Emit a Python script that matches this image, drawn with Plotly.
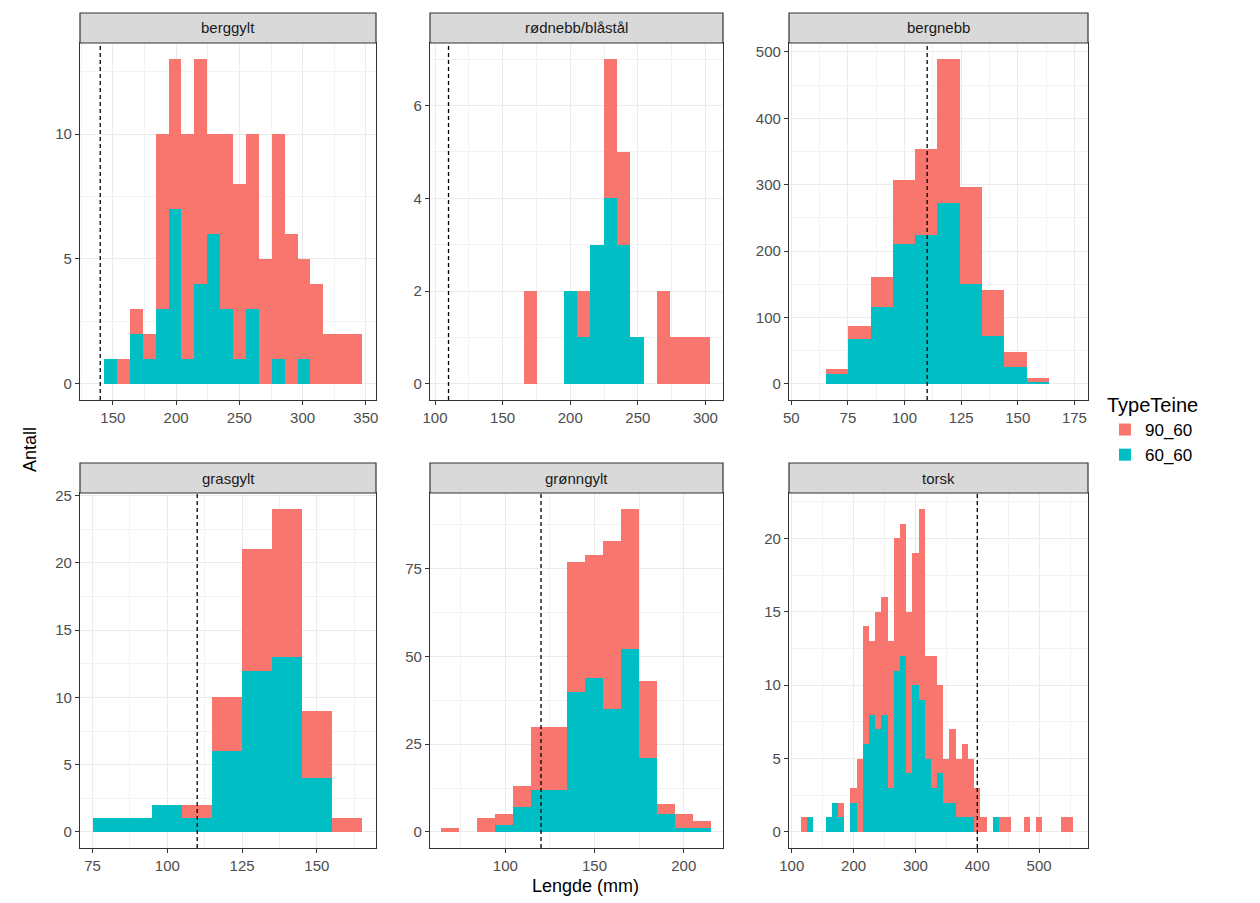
import plotly.graph_objects as go

# species facets, in plotting order
SPECIES = ["berggylt", "rødnebb/blåstål", "bergnebb", "grasgylt", "grønngylt", "torsk"]

# bin start (mm) and bin width (mm) per facet
BIN_START = [143, 165.6, 65.3, 75, 63.9, 115]
BIN_WIDTH = [10.2, 9.85, 9.85, 10, 10.1, 10]

# totals per bin (both trap types) and the 60_60 part of it
TOTAL = [
    [1, 1, 3, 2, 10, 13, 10, 13, 10, 10, 8, 10, 5, 10, 6, 5, 4, 2, 2, 2],
    [2, 0, 0, 2, 2, 3, 7, 5, 1, 0, 2, 1, 1, 1],
    [23, 87, 161, 307, 353, 489, 296, 141, 48, 9],
    [1, 1, 2, 2, 10, 21, 24, 9, 1],
    [1, 0, 4, 5, 13, 30, 30, 77, 79, 83, 92, 43, 8, 5, 3],
    [1, 1, 0, 0, 1, 2, 2, 0, 3, 5, 14, 13, 15, 16, 13, 20, 21, 15, 19, 22, 12, 12,
     10, 5, 7, 5, 6, 5, 3, 1, 0, 1, 1, 1, 0, 0, 1, 0, 1, 0, 0, 0, 1, 1],
]
N_60_60 = [
    [1, 0, 2, 1, 3, 7, 1, 4, 6, 3, 1, 3, 0, 1, 0, 1, 0, 0, 0, 0],
    [0, 0, 0, 2, 1, 3, 4, 3, 1, 0, 0, 0, 0, 0],
    [15, 67, 115, 210, 224, 273, 150, 72, 26, 3],
    [1, 1, 2, 1, 6, 12, 13, 4, 0],
    [0, 0, 0, 2, 7, 12, 12, 40, 44, 35, 52, 21, 5, 1, 1],
    [0, 1, 0, 0, 1, 2, 1, 0, 2, 0, 6, 8, 7, 8, 3, 11, 12, 4, 10, 9, 5, 3,
     4, 2, 2, 1, 1, 1, 0, 0, 0, 1, 0, 0, 0, 0, 0, 0, 0, 0, 0, 0, 0, 0],
]

# minimum length line per species
MIN_LENGTH = [140, 110, 110, 110, 120, 400]

# axis settings
X_RANGE = [[124, 358], [96.3, 313], [49, 181], [70.8, 169.8], [57.8, 222], [95.6, 579]]
X_DTICK = [50, 50, 25, 25, 50, 100]
X_TICK0 = [150, 100, 50, 75, 100, 100]
Y_DTICK = [5, 2, 100, 5, 25, 5]

RED = "#F8766D"
TEAL = "#00BFC4"
W, H = 1260, 903
OFF = 8  # page body margin in the browser
FONT = "Liberation Sans, Arial"

# panel pixel boxes in the screenshot (left, right, top, bottom)
COLS = [(80, 376), (430, 723), (789, 1088)]
ROWS = [(43, 400), (493, 848)]
STRIP_H = 30


def px(v):
    return (v - OFF) / W


def py(v):
    return 1 - (v - OFF) / H


fig = go.Figure()
shapes = []
annotations = []

for i, name in enumerate(SPECIES):
    r, c = divmod(i, 3)
    n = i + 1
    xa = "x" if n == 1 else f"x{n}"
    ya = "y" if n == 1 else f"y{n}"
    centers = [BIN_START[i] + BIN_WIDTH[i] * (k + 0.5) for k in range(len(TOTAL[i]))]
    n90 = [t - s for t, s in zip(TOTAL[i], N_60_60[i])]

    fig.add_trace(go.Bar(x=centers, y=N_60_60[i], width=BIN_WIDTH[i], name="60_60",
                         marker=dict(color=TEAL, line_width=0), legendgroup="60_60",
                         showlegend=(i == 0), xaxis=xa, yaxis=ya))
    fig.add_trace(go.Bar(x=centers, y=n90, width=BIN_WIDTH[i], name="90_60",
                         marker=dict(color=RED, line_width=0), legendgroup="90_60",
                         showlegend=(i == 0), xaxis=xa, yaxis=ya))

    l, rr = COLS[c]
    t, b = ROWS[r]
    ymax = max(TOTAL[i])
    grid = dict(showgrid=True, gridcolor="#ebebeb", gridwidth=1.2, zeroline=False,
                showline=True, linecolor="#333333", linewidth=1.2, mirror=True,
                ticks="outside", ticklen=4, tickcolor="#333333", automargin=False,
                tickfont=dict(family=FONT, size=15, color="#4d4d4d"))
    fig.layout[xa.replace("x", "xaxis")] = dict(
        domain=[px(l), px(rr)], anchor=ya, range=X_RANGE[i],
        tick0=X_TICK0[i], dtick=X_DTICK[i],
        minor=dict(showgrid=True, gridcolor="#f2f2f2", dtick=X_DTICK[i] / 2, tick0=X_TICK0[i]),
        **grid)
    fig.layout[ya.replace("y", "yaxis")] = dict(
        domain=[py(b), py(t)], anchor=xa, range=[-0.05 * ymax, 1.05 * ymax],
        tick0=0, dtick=Y_DTICK[i],
        minor=dict(showgrid=True, gridcolor="#f2f2f2", dtick=Y_DTICK[i] / 2, tick0=0),
        **grid)

    shapes.append(dict(type="line", xref=xa, yref=f"{ya} domain", x0=MIN_LENGTH[i],
                       x1=MIN_LENGTH[i], y0=0, y1=1,
                       line=dict(color="black", width=1.3, dash="4px,3px")))
    # facet strip
    shapes.append(dict(type="rect", xref="paper", yref="paper", x0=px(l), x1=px(rr),
                       y0=py(t), y1=py(t - STRIP_H), fillcolor="#d9d9d9",
                       line=dict(color="#333333", width=1.2)))
    annotations.append(dict(text=name, xref="paper", yref="paper", x=px((l + rr) / 2),
                            y=py(t - STRIP_H / 2), showarrow=False,
                            xanchor="center", yanchor="middle",
                            font=dict(family=FONT, size=15, color="#1a1a1a")))

annotations.append(dict(text="Antall", xref="paper", yref="paper", x=px(30), y=py(450),
                        textangle=-90, showarrow=False, xanchor="center", yanchor="middle",
                        font=dict(family=FONT, size=18, color="black")))
annotations.append(dict(text="Lengde (mm)", xref="paper", yref="paper", x=px(585), y=py(886),
                        showarrow=False, xanchor="center", yanchor="middle",
                        font=dict(family=FONT, size=18, color="black")))

fig.update_layout(
    width=W, height=H, barmode="stack", bargap=0,
    margin=dict(l=0, r=0, t=0, b=0, autoexpand=False),
    plot_bgcolor="white", paper_bgcolor="white",
    shapes=shapes, annotations=annotations,
    legend=dict(x=px(1105), y=py(386), xanchor="left", yanchor="top",
                title=dict(text="TypeTeine", font=dict(size=20, color="black")),
                traceorder="reversed", tracegroupgap=24,
                font=dict(family=FONT, size=17, color="black"),
                itemsizing="constant"),
)

fig.write_html("out.html")
